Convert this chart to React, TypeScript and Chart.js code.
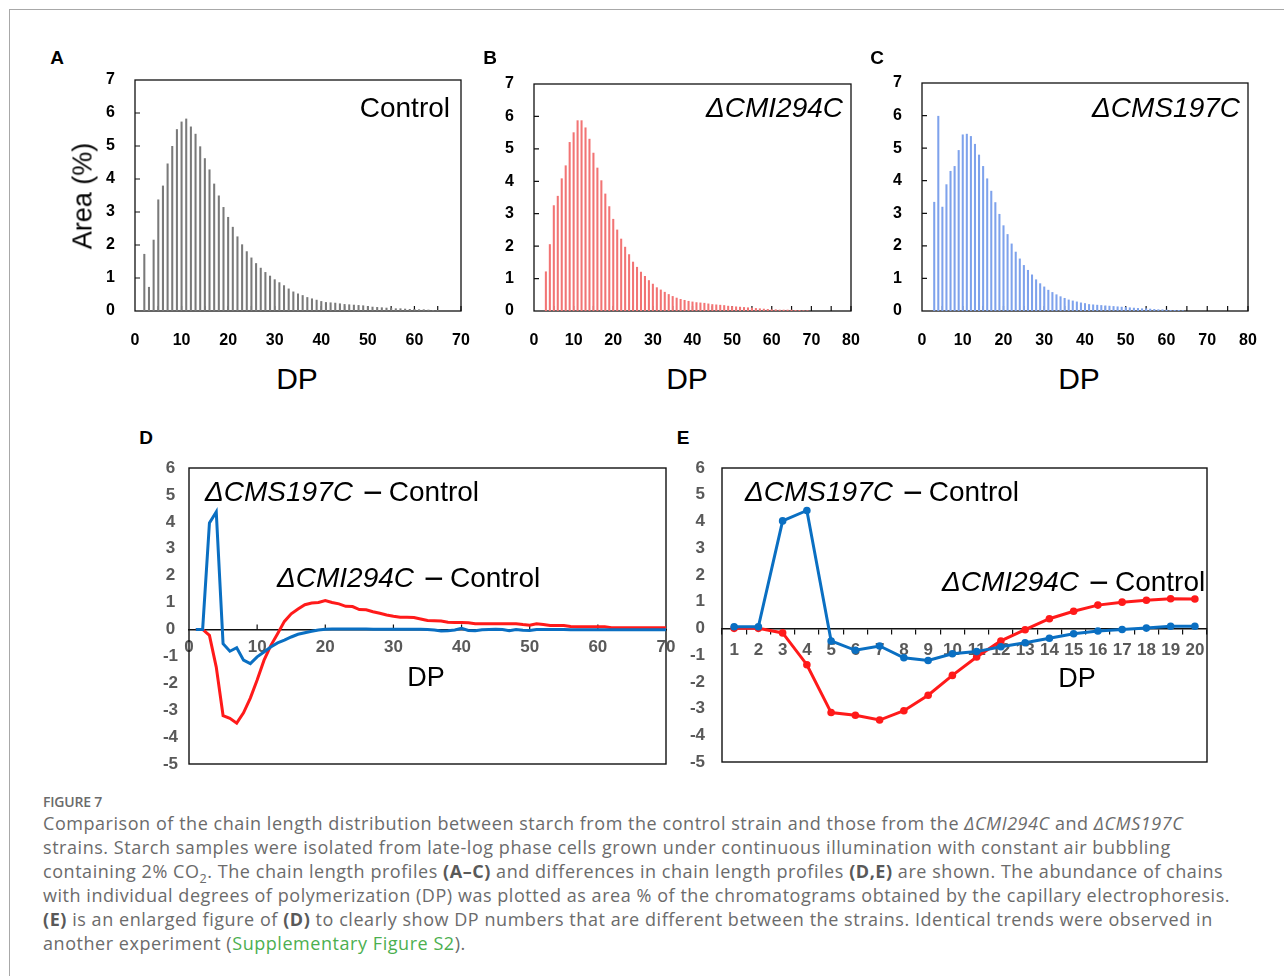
import React, { useEffect, useRef } from "react";
import { Chart, registerables } from "chart.js";

Chart.register(...registerables);

// ---------------- DATA ----------------
// Panel A: Control chain-length profile (Area %), starting at DP 2
const controlFirstDP = 2;
const controlArea = [
  1.72, 0.72, 2.15, 3.37, 3.79, 4.46, 4.99, 5.5, 5.73, 5.82,
  5.58, 5.36, 4.98, 4.62, 4.28, 3.85, 3.49, 3.14, 2.84, 2.54,
  2.25, 2.01, 1.8, 1.61, 1.44, 1.3, 1.17, 1.06, 0.95, 0.86,
  0.77, 0.67, 0.58, 0.52, 0.47, 0.41, 0.37, 0.33, 0.29, 0.26,
  0.25, 0.24, 0.22, 0.2, 0.19, 0.18, 0.17, 0.16, 0.14, 0.12,
  0.11, 0.1, 0.09, 0.08, 0.07, 0.07, 0.06, 0.05, 0.05, 0.04,
  0.04, 0.03, 0.02, 0.02,
];

// Panel B: ΔCMI294C chain-length profile, starting at DP 3
const cmiFirstDP = 3;
const cmiArea = [
  1.21, 2.05, 3.25, 3.54, 4.08, 4.48, 5.2, 5.5, 5.87, 5.87,
  5.65, 5.3, 4.87, 4.41, 4.02, 3.61, 3.22, 2.83, 2.5, 2.22,
  1.97, 1.74, 1.51, 1.35, 1.2, 1.07, 0.94, 0.83, 0.72, 0.65,
  0.58, 0.51, 0.45, 0.4, 0.36, 0.33, 0.3, 0.28, 0.26, 0.25,
  0.24, 0.22, 0.2, 0.19, 0.18, 0.17, 0.15, 0.14, 0.13, 0.12,
  0.11, 0.1, 0.09, 0.08, 0.07, 0.06, 0.05, 0.04, 0.04, 0.03,
  0.03, 0.03, 0.03, 0.02, 0.02, 0.01, 0.01,
];

// Panel C: ΔCMS197C chain-length profile, starting at DP 3
const cmsFirstDP = 3;
const cmsArea = [
  3.34, 5.98, 3.19, 3.88, 4.29, 4.44, 4.93, 5.41, 5.43, 5.36,
  5.12, 4.79, 4.44, 4.06, 3.68, 3.33, 2.97, 2.62, 2.35, 2.06,
  1.81, 1.6, 1.4, 1.25, 1.11, 0.96, 0.84, 0.74, 0.64, 0.57,
  0.5, 0.44, 0.39, 0.34, 0.31, 0.28, 0.25, 0.23, 0.2, 0.19,
  0.18, 0.17, 0.16, 0.15, 0.14, 0.13, 0.12, 0.11, 0.1, 0.09,
  0.08, 0.07, 0.07, 0.06, 0.05, 0.04, 0.04, 0.03, 0.02, 0.02,
  0.02, 0.01,
];

// Panel D: differences, DP 1..70
const cmsMinusControlD = [
  0, 0, 3.96, 4.37, -0.53, -0.81, -0.68, -1.14, -1.27, -1.02,
  -0.84, -0.65, -0.5, -0.4, -0.28, -0.18, -0.12, -0.07, -0.02, 0.01,
  0.02, 0.02, 0.02, 0.02, 0.02, 0.02, 0.01, 0.01, 0.01, 0.01,
  0.01, 0.01, 0.01, 0.01, 0.0, -0.02, -0.06, -0.05, -0.02, 0.04,
  -0.04, -0.05, -0.01, 0.0, 0.01, 0.0, -0.05, 0.0, -0.03, -0.04,
  0.0, 0.0, 0.0, 0.0, 0.0, -0.01, -0.01, -0.01, -0.01, -0.01,
  -0.01, -0.01, -0.01, -0.01, -0.01, -0.01, -0.01, -0.01, -0.01, -0.01,
];
const cmiMinusControlD = [
  0, 0, -0.22, -1.4, -3.2, -3.3, -3.48, -3.1, -2.55, -1.88,
  -1.15, -0.6, -0.16, 0.3, 0.58, 0.76, 0.92, 0.98, 1.0, 1.07,
  1.0, 0.95, 0.86, 0.85, 0.74, 0.73, 0.66, 0.6, 0.54, 0.49,
  0.45, 0.45, 0.44, 0.39, 0.33, 0.32, 0.31, 0.27, 0.26, 0.26,
  0.25, 0.21, 0.21, 0.21, 0.21, 0.21, 0.21, 0.21, 0.18, 0.16,
  0.21, 0.18, 0.15, 0.15, 0.15, 0.11, 0.1, 0.1, 0.1, 0.1,
  0.1, 0.06, 0.06, 0.06, 0.06, 0.06, 0.06, 0.06, 0.06, 0.06,
];

// Panel E: enlarged differences, DP 1..20
const dpLabelsE = ["1", "2", "3", "4", "5", "6", "7", "8", "9", "10",
  "11", "12", "13", "14", "15", "16", "17", "18", "19", "20"];
const cmsMinusControlE = [
  0.06, 0.06, 4.02, 4.41, -0.47, -0.82, -0.66, -1.1, -1.2, -0.95,
  -0.87, -0.69, -0.54, -0.37, -0.2, -0.1, -0.04, 0.01, 0.08, 0.08,
];
const cmiMinusControlE = [
  0, 0, -0.17, -1.36, -3.15, -3.25, -3.43, -3.08, -2.5, -1.76,
  -1.07, -0.47, -0.05, 0.36, 0.64, 0.87, 0.98, 1.05, 1.11, 1.1,
];

// ---------------- STYLE ----------------
const SANS = "'Liberation Sans', Arial, Helvetica, sans-serif";
const BLUE = "#0a6fc2";
const RED = "#ff1a1a";
const GRAY_TICK = "#595959";

const decoPlugin = {
  id: "deco",
  beforeDatasetsDraw(chart: any, _args: any, opts: any) {
    if (!opts || !opts.enabled) return;
    const { ctx, chartArea: a, scales } = chart;
    ctx.save();
    ctx.strokeStyle = opts.color || "#000";
    ctx.lineWidth = opts.tickWidth || 1.2;
    ctx.beginPath();
    (opts.yTicks || []).forEach((v: number) => {
      const py = scales.y.getPixelForValue(v);
      ctx.moveTo(a.left, py);
      ctx.lineTo(a.left + opts.tickLen, py);
    });
    const base = opts.xAtZero ? scales.y.getPixelForValue(0) : a.bottom;
    (opts.xTicks || []).forEach((v: number) => {
      const px = scales.x.getPixelForValue(v);
      ctx.moveTo(px, base);
      ctx.lineTo(px, base - opts.tickLen);
    });
    ctx.stroke();
    ctx.lineWidth = opts.frameWidth || 1.3;
    ctx.strokeRect(a.left, a.top, a.right - a.left, a.bottom - a.top);
    ctx.restore();
  },
};
Chart.register(decoPlugin as any);

function fixSize(w?: number, h?: number) {
  return (s: any) => {
    if (w !== undefined) s.width = w;
    if (h !== undefined) s.height = h;
    s.paddingLeft = 0;
    s.paddingRight = 0;
    s.paddingTop = 0;
    s.paddingBottom = 0;
  };
}

function toPoints(first: number, vals: number[]) {
  return vals.map((v, i) => ({ x: first + i, y: v }));
}

function barPanel(
  canvas: HTMLCanvasElement,
  first: number,
  vals: number[],
  color: string,
  xMax: number,
  padRight: number
) {
  const xt: number[] = [];
  for (let v = 5; v <= xMax; v += 5) xt.push(v);
  return new Chart(canvas, {
    type: "bar",
    data: {
      datasets: [
        {
          data: toPoints(first, vals) as any,
          backgroundColor: color,
          borderWidth: 0,
          barThickness: 1.4,
        },
      ],
    },
    options: {
      responsive: false,
      animation: false,
      devicePixelRatio: 1,
      layout: { padding: { top: 20, right: padRight, left: 0, bottom: 0 } },
      plugins: {
        legend: { display: false },
        tooltip: { enabled: false },
        deco: {
          enabled: true,
          yTicks: [1, 2, 3, 4, 5, 6],
          xTicks: xt,
          tickLen: 5,
          frameWidth: 1.3,
          color: "#111",
        },
      } as any,
      scales: {
        x: {
          type: "linear",
          min: 0,
          max: xMax,
          offset: false,
          grid: { display: false, drawTicks: false },
          border: { display: false },
          ticks: {
            stepSize: 10,
            autoSkip: false,
            maxRotation: 0,
            padding: 20,
            color: "#000",
            font: { family: SANS, size: 16, weight: "bold" },
          },
          afterFit: fixSize(undefined, 49),
        },
        y: {
          min: 0,
          max: 7,
          grid: { display: false, drawTicks: false },
          border: { display: false },
          ticks: {
            stepSize: 1,
            padding: 20,
            color: "#000",
            font: { family: SANS, size: 16, weight: "bold" },
          },
          afterFit: fixSize(50, undefined),
        },
      } as any,
    },
  });
}

function diffPanelD(canvas: HTMLCanvasElement) {
  return new Chart(canvas, {
    type: "line",
    data: {
      datasets: [
        {
          data: toPoints(1, cmsMinusControlD) as any,
          borderColor: BLUE,
          borderWidth: 3,
          pointRadius: 0,
          tension: 0,
        },
        {
          data: toPoints(1, cmiMinusControlD) as any,
          borderColor: RED,
          borderWidth: 3,
          pointRadius: 0,
          tension: 0,
        },
      ],
    },
    options: {
      responsive: false,
      animation: false,
      devicePixelRatio: 1,
      layout: { padding: { top: 13, right: 14, left: 0, bottom: 11 } },
      plugins: {
        legend: { display: false },
        tooltip: { enabled: false },
        deco: {
          enabled: true,
          xTicks: [10, 20, 30, 40, 50, 60],
          xAtZero: true,
          tickLen: 5,
          frameWidth: 1.4,
          color: "#111",
        },
      } as any,
      scales: {
        x: {
          type: "linear",
          min: 0,
          max: 70,
          position: { y: 0 },
          grid: { display: true, drawOnChartArea: false, drawTicks: false },
          border: { display: true, color: "#111", width: 1.5 },
          ticks: {
            stepSize: 10,
            autoSkip: false,
            maxRotation: 0,
            padding: 8,
            color: GRAY_TICK,
            font: { family: SANS, size: 17, weight: "bold" },
          },
          afterFit: fixSize(),
        },
        y: {
          min: -5,
          max: 6,
          grid: { display: false, drawTicks: false },
          border: { display: false },
          ticks: {
            stepSize: 1,
            padding: 11,
            crossAlign: "center",
            color: GRAY_TICK,
            font: { family: SANS, size: 17, weight: "bold" },
          },
          afterFit: fixSize(49, undefined),
        },
      } as any,
    },
  });
}

function diffPanelE(canvas: HTMLCanvasElement) {
  return new Chart(canvas, {
    type: "line",
    data: {
      labels: dpLabelsE,
      datasets: [
        {
          data: cmsMinusControlE,
          borderColor: BLUE,
          backgroundColor: BLUE,
          borderWidth: 3,
          pointRadius: 3.8,
          pointBorderWidth: 0,
          tension: 0,
        },
        {
          data: cmiMinusControlE,
          borderColor: RED,
          backgroundColor: RED,
          borderWidth: 3,
          pointRadius: 3.8,
          pointBorderWidth: 0,
          tension: 0,
        },
      ],
    },
    options: {
      responsive: false,
      animation: false,
      devicePixelRatio: 1,
      layout: { padding: { top: 13, right: 13, left: 0, bottom: 13 } },
      plugins: {
        legend: { display: false },
        tooltip: { enabled: false },
        deco: { enabled: true, frameWidth: 1.4, color: "#111" },
      } as any,
      scales: {
        x: {
          type: "category",
          offset: true,
          position: { y: 0 },
          grid: {
            display: true,
            offset: true,
            drawOnChartArea: false,
            drawTicks: true,
            tickLength: 5,
            color: "#111",
            lineWidth: 1.2,
          },
          border: { display: true, color: "#111", width: 1.5 },
          ticks: {
            autoSkip: false,
            maxRotation: 0,
            padding: 7,
            color: GRAY_TICK,
            font: { family: SANS, size: 17, weight: "bold" },
          },
          afterFit: fixSize(),
        },
        y: {
          min: -5,
          max: 6,
          grid: { display: false, drawTicks: false },
          border: { display: false },
          ticks: {
            stepSize: 1,
            padding: 17,
            color: GRAY_TICK,
            font: { family: SANS, size: 17, weight: "bold" },
          },
          afterFit: fixSize(52, undefined),
        },
      } as any,
    },
  });
}

// ---------------- UI ----------------
const abs = (left: number, top: number): React.CSSProperties => ({
  position: "absolute",
  left,
  top,
});

function Txt(props: {
  x: number;
  y: number;
  size: number;
  align?: "left" | "center" | "right";
  bold?: boolean;
  children: React.ReactNode;
  rotate?: boolean;
}) {
  const { x, y, size, align = "left", bold, children, rotate } = props;
  const tx = align === "left" ? "0" : align === "center" ? "-50%" : "-100%";
  return (
    <div
      style={{
        position: "absolute",
        left: x,
        top: y,
        fontFamily: SANS,
        fontSize: size,
        lineHeight: 1,
        fontWeight: bold ? 700 : 400,
        color: "#000",
        whiteSpace: "nowrap",
        transform: rotate
          ? "translate(-50%, -50%) rotate(-90deg)"
          : `translate(${tx}, -50%)`,
      }}
    >
      {children}
    </div>
  );
}

function DiffLabel({ x, y, name }: { x: number; y: number; name: string }) {
  return (
    <Txt x={x} y={y} size={28}>
      <i>{name}</i>
      <span style={{ margin: "0 6px 0 10px", fontSize: 34, verticalAlign: "top", lineHeight: "28px" }}>
        {"\u2212"}
      </span>
      Control
    </Txt>
  );
}

function Canvas({
  r,
  left,
  top,
  w,
  h,
}: {
  r: React.RefObject<HTMLCanvasElement>;
  left: number;
  top: number;
  w: number;
  h: number;
}) {
  return (
    <canvas
      ref={r}
      width={w}
      height={h}
      style={{ ...abs(left, top), width: w, height: h }}
    />
  );
}

export default function App() {
  const refA = useRef<HTMLCanvasElement>(null);
  const refB = useRef<HTMLCanvasElement>(null);
  const refC = useRef<HTMLCanvasElement>(null);
  const refD = useRef<HTMLCanvasElement>(null);
  const refE = useRef<HTMLCanvasElement>(null);

  useEffect(() => {
    const charts: Chart[] = [];
    if (refA.current)
      charts.push(barPanel(refA.current, controlFirstDP, controlArea, "#7a7a7a", 70, 14));
    if (refB.current)
      charts.push(barPanel(refB.current, cmiFirstDP, cmiArea, "#f27474", 80, 13));
    if (refC.current)
      charts.push(barPanel(refC.current, cmsFirstDP, cmsArea, "#7ea2ec", 80, 14));
    if (refD.current) charts.push(diffPanelD(refD.current));
    if (refE.current) charts.push(diffPanelE(refE.current));
    return () => charts.forEach((c) => c.destroy());
  }, []);

  const cap: React.CSSProperties = {
    fontFamily: "'Open Sans', 'Noto Sans', sans-serif",
    fontSize: 18,
    letterSpacing: 0.55,
    lineHeight: "24px",
    color: "#6b6b6b",
    whiteSpace: "nowrap",
  };
  const b: React.CSSProperties = { fontWeight: 700, color: "#595959" };

  return (
    <div
      style={{
        position: "absolute",
        left: 0,
        top: 0,
        width: 1284,
        height: 976,
        background: "#fff",
        overflow: "hidden",
      }}
    >
      <div
        style={{
          position: "absolute",
          left: 9,
          top: 9,
          width: 1400,
          height: 1200,
          borderTop: "1px solid #a8a8a8",
          borderLeft: "1px solid #a8a8a8",
        }}
      />

      <Canvas r={refA} left={85} top={60} w={390} h={300} />
      <Canvas r={refB} left={484} top={64} w={380} h={296} />
      <Canvas r={refC} left={872} top={63} w={390} h={297} />
      <Canvas r={refD} left={140} top={455} w={540} h={320} />
      <Canvas r={refE} left={670} top={455} w={550} h={320} />

      {/* panel letters */}
      <Txt x={57} y={57} size={19} align="center" bold>A</Txt>
      <Txt x={490} y={57} size={19} align="center" bold>B</Txt>
      <Txt x={877} y={57} size={19} align="center" bold>C</Txt>
      <Txt x={146} y={437} size={19} align="center" bold>D</Txt>
      <Txt x={683} y={437} size={19} align="center" bold>E</Txt>

      {/* A-C titles */}
      <Txt x={83} y={196} size={27} rotate>Area (%)</Txt>
      <Txt x={450} y={108} size={28} align="right">Control</Txt>
      <Txt x={843} y={108} size={28} align="right"><i>ΔCMI294C</i></Txt>
      <Txt x={1240} y={108} size={28} align="right"><i>ΔCMS197C</i></Txt>
      <Txt x={297} y={379} size={30} align="center">DP</Txt>
      <Txt x={687} y={379} size={30} align="center">DP</Txt>
      <Txt x={1079} y={379} size={30} align="center">DP</Txt>

      {/* D-E labels */}
      <DiffLabel x={205} y={492} name="ΔCMS197C" />
      <DiffLabel x={277} y={578} name="ΔCMI294C" />
      <Txt x={426} y={677} size={27} align="center">DP</Txt>
      <DiffLabel x={745} y={492} name="ΔCMS197C" />
      <DiffLabel x={942} y={582} name="ΔCMI294C" />
      <Txt x={1077} y={678} size={27} align="center">DP</Txt>

      {/* caption */}
      <div
        style={{
          ...abs(43, 792),
          fontFamily: "'Open Sans', sans-serif",
          fontSize: 14,
          fontWeight: 600,
          color: "#6b6b6b",
          letterSpacing: -0.2,
        }}
      >
        FIGURE 7
      </div>
      <div style={{ ...abs(43, 811), ...cap }}>
        <div>
          Comparison of the chain length distribution between starch from the control strain and
          those from the <i>ΔCMI294C</i> and <i>ΔCMS197C</i>
        </div>
        <div>
          strains. Starch samples were isolated from late-log phase cells grown under continuous
          illumination with constant air bubbling
        </div>
        <div>
          containing 2% CO
          <span style={{ fontSize: "0.7em", verticalAlign: "sub", lineHeight: 0 }}>2</span>. The
          chain length profiles <span style={b}>(A–C)</span> and differences in chain length
          profiles <span style={b}>(D,E)</span> are shown. The abundance of chains
        </div>
        <div>
          with individual degrees of polymerization (DP) was plotted as area % of the
          chromatograms obtained by the capillary electrophoresis.
        </div>
        <div>
          <span style={b}>(E)</span> is an enlarged figure of <span style={b}>(D)</span> to
          clearly show DP numbers that are different between the strains. Identical trends were
          observed in
        </div>
        <div>
          another experiment (
          <span style={{ color: "#4caf50" }}>Supplementary Figure S2</span>).
        </div>
      </div>
    </div>
  );
}
